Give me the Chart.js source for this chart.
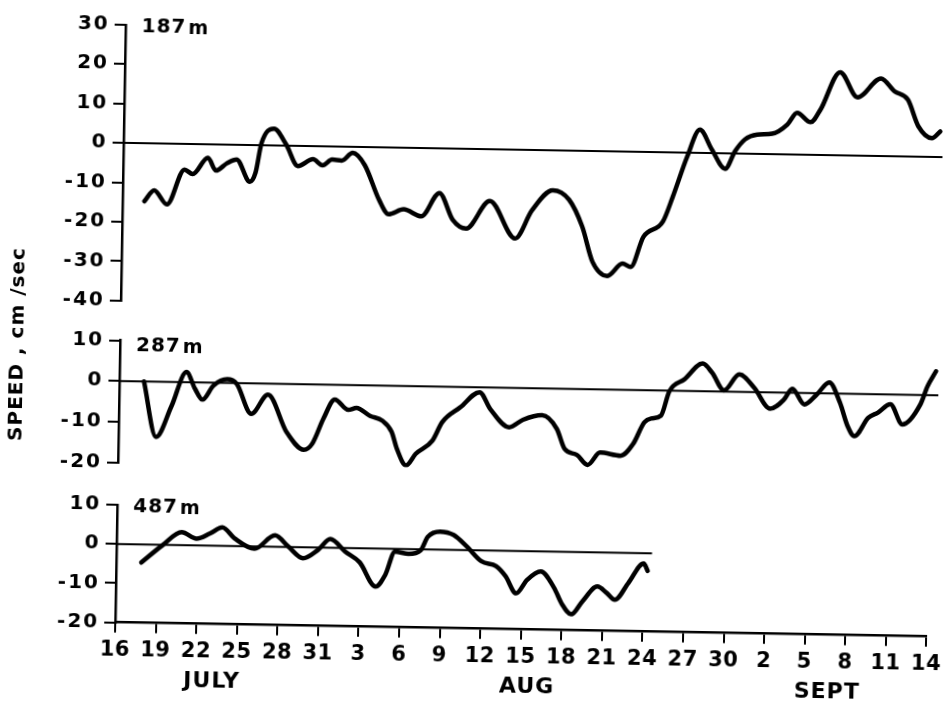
<!DOCTYPE html>
<html>
<head>
<meta charset="utf-8">
<title>Current speed at three depths</title>
<script src="https://cdn.jsdelivr.net/npm/chart.js@4"></script>
<style>
  html, body { margin: 0; padding: 0; background: #fff; overflow: hidden; }
  #sheet { position: relative; width: 951px; height: 704px; background: #fff;
           transform: rotate(1deg); transform-origin: 475.5px 352px; }
  #sheet canvas { position: absolute; left: 0; top: 0; }
</style>
</head>
<body>
<div id="sheet">
  <canvas id="p187" width="951" height="704"></canvas>
  <canvas id="p287" width="951" height="704"></canvas>
  <canvas id="p487" width="951" height="704"></canvas>
</div>
<script>
// Days counted from 16 July; speeds in cm/sec.
const days187  = [1.6, 2.3, 3.25, 4.5, 5.1, 6.2, 6.8, 7.6, 8.3, 9.3, 9.7, 10.1, 11.0, 11.9, 12.8, 13.9, 14.6, 15.3, 16.0, 16.8, 17.7, 18.8, 19.5, 20.6, 21.9, 23.2, 24.2, 25.2, 26.9, 28.8, 30.0, 31.5, 32.7, 33.7, 34.5, 35.6, 36.7, 37.3, 38.2, 39.6, 40.3, 41.3, 42.2, 43.1, 44.1, 44.8, 45.5, 46.4, 47.5, 48.6, 49.3, 50.3, 51.0, 52.4, 53.7, 55.4, 56.4, 57.4, 58.2, 59.2, 59.8];
const speed187 = [-14.7, -11.9, -15.4, -6.5, -7.6, -3.4, -6.6, -4.7, -3.7, -9.3, -7.0, 0.5, 4.3, 0.4, -5.1, -3.3, -4.8, -3.3, -3.5, -1.5, -4.6, -13.4, -16.9, -15.6, -17.3, -11.3, -18.0, -20.2, -13.1, -22.5, -15.3, -10.1, -12.4, -19.2, -28.1, -31.6, -28.4, -29.2, -21.5, -17.6, -11.2, -1.0, 5.9, 0.9, -3.9, 0.6, 3.6, 4.9, 5.2, 7.6, 10.6, 8.3, 11.5, 21.1, 14.8, 19.7, 16.5, 14.4, 7.7, 4.8, 6.5];

const days287  = [1.8, 2.75, 3.85, 4.9, 5.55, 6.1, 6.9, 7.9, 8.6, 9.7, 10.9, 12.3, 13.6, 14.2, 15.0, 15.8, 16.8, 17.4, 18.4, 19.3, 20.0, 20.4, 21.1, 21.8, 23.0, 23.7, 25.0, 26.4, 27.2, 28.6, 29.6, 31.0, 32.1, 32.7, 33.6, 34.4, 35.3, 36.8, 37.7, 38.5, 39.0, 39.7, 40.3, 41.4, 42.7, 43.4, 44.3, 45.4, 46.5, 47.7, 48.7, 49.3, 50.2, 51.1, 52.0, 52.8, 53.4, 53.9, 54.9, 55.6, 56.5, 57.4, 58.7, 59.2, 59.8];
const speed287 = [0.0, -13.6, -5.9, 2.5, -1.6, -4.2, -0.7, 0.9, -0.2, -7.5, -2.7, -11.8, -16.1, -14.6, -8.3, -3.6, -6.1, -5.6, -7.5, -8.6, -11.3, -15.4, -19.5, -16.6, -13.3, -8.7, -5.0, -1.2, -5.3, -9.7, -7.8, -6.6, -9.9, -14.8, -16.2, -18.6, -15.5, -16.2, -13.3, -7.9, -6.9, -6.2, -0.1, 2.9, 6.8, 4.6, 0.3, 4.3, 1.1, -4.0, -1.7, 1.0, -2.8, -0.3, 2.7, -2.2, -8.0, -10.4, -5.8, -4.5, -2.4, -7.3, -2.3, 2.2, 5.9];

const days487  = [1.85, 3.4, 4.8, 5.9, 6.9, 7.8, 8.7, 10.2, 11.7, 12.7, 13.8, 14.9, 15.8, 16.9, 18.0, 19.2, 19.9, 20.6, 21.6, 22.5, 23.0, 23.9, 24.9, 25.9, 27.0, 28.1, 28.8, 29.6, 30.4, 31.4, 32.4, 33.0, 33.7, 34.5, 35.6, 36.3, 36.9, 37.9, 39.0, 39.3];
const speed487 = [-4.6, -0.1, 3.3, 1.7, 3.1, 4.7, 2.0, -0.6, 2.9, 0.1, -2.8, -0.6, 2.2, -0.9, -3.6, -9.7, -6.7, -0.7, -1.2, -0.2, 3.2, 4.6, 3.8, 0.9, -2.8, -4.0, -6.5, -10.8, -7.3, -5.1, -9.2, -13.3, -15.9, -12.6, -8.7, -10.3, -12.0, -7.6, -2.6, -4.5];

// Date tick labels, one every three days from 16 July to 14 September.
const dateTicks = ['16', '19', '22', '25', '28', '31', '3', '6', '9', '12', '15', '18', '21', '24', '27', '30', '2', '5', '8', '11', '14'];
const monthNames = ['JULY', 'AUG', 'SEPT'];
const monthMidDays = [7.2, 30.5, 52.7];

// Each record ends where its zero reference line stops.
const recordEnd = { d187: 60, d287: 60, d487: 39.6 };

const FONT = "'DejaVu Sans', sans-serif";
const W = 951, H = 704;
const DATE_AXIS_H = 60;

// Draw a scale's tick labels with extra spacing between letters.
function spaceLabels(scale, spacing) {
  if (!scale || scale._spaced) return;
  const draw = scale.drawLabels;
  scale.drawLabels = function (area) {
    const ctx = this.ctx;
    ctx.save();
    ctx.letterSpacing = spacing;
    draw.call(this, area);
    ctx.restore();
  };
  scale._spaced = true;
}

const panelText = {
  id: 'panelText',
  beforeDraw(chart) {
    spaceLabels(chart.scales.y, '2px');
    spaceLabels(chart.scales.x, '0.5px');
  },
  afterDraw(chart, args, opts) {
    const ctx = chart.ctx;
    const a = chart.chartArea;
    ctx.save();
    ctx.fillStyle = '#000';
    ctx.textBaseline = 'middle';
    ctx.textAlign = 'left';
    ctx.letterSpacing = '1px';
    // depth label
    ctx.font = 'bold 20px ' + FONT;
    const lx = a.left + 16, ly = a.top + opts.labelDy;
    ctx.fillText(opts.depth, lx, ly);
    const w = ctx.measureText(opts.depth).width;
    ctx.font = 'bold 19px ' + FONT;
    ctx.fillText('m', lx + w + 2, ly + 1);
    if (opts.months) {
      const xs = chart.scales.x;
      ctx.textAlign = 'center';
      ctx.font = 'bold 22px ' + FONT;
      monthNames.forEach((m, i) => ctx.fillText(m, xs.getPixelForValue(monthMidDays[i]), a.bottom + 58));
    }
    if (opts.yTitle) {
      ctx.translate(18, 352);
      ctx.rotate(-Math.PI / 2);
      ctx.textAlign = 'center';
      ctx.font = 'bold 20px ' + FONT;
      ctx.fillText(opts.yTitle, 0, 0);
    }
    ctx.restore();
  }
};

function buildPanel(id, days, speeds, zeroEnd, yMin, yMax, box, textOpts, withDates) {
  const curve = days.map((d, i) => ({ x: d, y: speeds[i] }));
  return new Chart(document.getElementById(id), {
    type: 'line',
    data: {
      datasets: [
        { data: [{ x: 0, y: 0 }, { x: zeroEnd, y: 0 }], borderColor: '#000', borderWidth: 2,
          pointRadius: 0, tension: 0 },
        { data: curve, borderColor: '#000', borderWidth: 4.5, pointRadius: 0,
          cubicInterpolationMode: 'monotone', borderCapStyle: 'round', borderJoinStyle: 'round' }
      ]
    },
    options: {
      responsive: false, animation: false, devicePixelRatio: 1,
      layout: { padding: { left: 0, right: W - box.right, top: box.top,
                           bottom: H - box.bottom - (withDates ? DATE_AXIS_H : 0) } },
      plugins: { legend: { display: false }, tooltip: { enabled: false }, panelText: textOpts },
      scales: {
        x: {
          type: 'linear', min: 0, max: 60, display: withDates,
          afterFit: s => { s.height = withDates ? DATE_AXIS_H : 0; },
          border: { display: true, color: '#000', width: 2.5 },
          grid: { drawOnChartArea: false, drawTicks: true, tickLength: 10, color: '#000', lineWidth: 2 },
          ticks: { stepSize: 3, autoSkip: false, maxRotation: 0, padding: 5, color: '#000',
                   font: { family: FONT, size: 21, weight: 'bold' },
                   callback: v => dateTicks[Math.round(v / 3)] }
        },
        y: {
          min: yMin, max: yMax,
          afterFit: s => { s.width = box.left; },
          border: { display: true, color: '#000', width: 2.5 },
          grid: { drawOnChartArea: false, drawTicks: true, tickLength: 11, color: '#000', lineWidth: 2 },
          ticks: { stepSize: 10, padding: 5, color: '#000',
                   font: { family: FONT, size: 20, weight: 'bold' },
                   callback: v => String(v) }
        }
      }
    },
    plugins: [panelText]
  });
}

buildPanel('p187', days187, speed187, recordEnd.d187, -40, 30,
  { left: 120, right: 939, top: 30.8, bottom: 306.8 },
  { depth: '187', labelDy: 2 }, false);
buildPanel('p287', days287, speed287, recordEnd.d287, -20, 10,
  { left: 120, right: 939, top: 346.6, bottom: 468.6 },
  { depth: '287', labelDy: 5, yTitle: 'SPEED , cm /sec' }, false);
buildPanel('p487', days487, speed487, recordEnd.d487, -20, 10,
  { left: 120, right: 939, top: 511, bottom: 628.7 },
  { depth: '487', labelDy: 2, months: true }, true);
</script>
</body>
</html>
